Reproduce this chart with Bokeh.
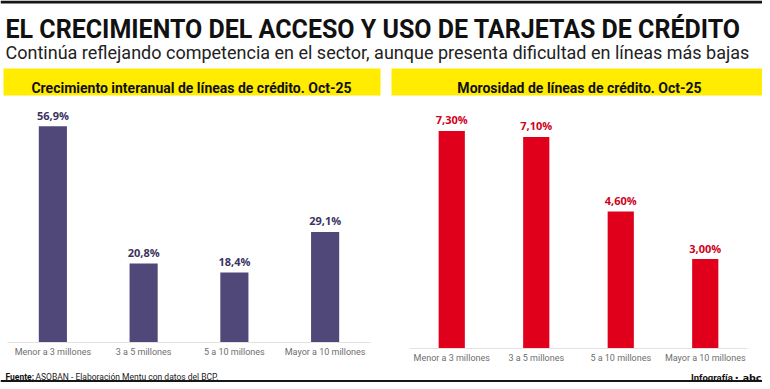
from bokeh.plotting import figure
from bokeh.layouts import column, row
from bokeh.models import ColumnDataSource, Range1d, FactorRange
from bokeh.core.properties import value
from bokeh.embed import file_html
from bokeh.resources import INLINE

# ---- data ----
title_text = "EL CRECIMIENTO DEL ACCESO Y USO DE TARJETAS DE CRÉDITO"
subtitle_text = "Continúa reflejando competencia en el sector, aunque presenta dificultad en líneas más bajas"
left_title = "Crecimiento interanual de líneas de crédito. Oct-25"
right_title = "Morosidad de líneas de crédito. Oct-25"
categories = ["Menor a 3 millones", "3 a 5 millones", "5 a 10 millones", "Mayor a 10 millones"]
growth = [56.9, 20.8, 18.4, 29.1]
delinquency = [7.30, 7.10, 4.60, 3.00]
source_label = "Fuente:"
source_text = "ASOBAN - Elaboración Mentu con datos del BCP."
credit_text = "Infografía •"
brand_text = "abc"

NARROW_B = "'Noto Sans ExtraCondensed', 'Noto Sans Condensed', Roboto, sans-serif"
NARROW_L = "'Noto Sans ExtraCondensed Light', 'Noto Sans ExtraCondensed', 'Noto Sans Condensed', Roboto, sans-serif"
W = 762
HDR_H = 100
CH_H = 264
FT_H = 17


def blank(fig):
    fig.axis.visible = False
    fig.grid.visible = False
    fig.outline_line_color = None
    return fig


# ---- header ----
hdr = figure(width=W, height=HDR_H, x_range=Range1d(0, W), y_range=Range1d(HDR_H, 0),
             output_backend="svg", toolbar_location=None, min_border=0)
blank(hdr)
hdr.quad(left=[0], right=[W], top=[0], bottom=[3], fill_color="#161616", line_color=None)
hdr.quad(left=[3, 391], right=[380, W], top=[68, 68], bottom=[95, 95],
         fill_color="#ffec00", line_color=None)
hdr.text(x=[5], y=[29], text=[title_text], text_font=value(NARROW_B), text_font_style="bold",
         text_font_size="25px", text_baseline="alphabetic", text_color="#111111")
hdr.text(x=[5], y=[52], text=[subtitle_text], text_font=value(NARROW_L), text_font_style="normal",
         text_font_size="18px", text_baseline="alphabetic", text_color="#222222")
hdr.text(x=[191, 579], y=[87, 87], text=[left_title, right_title], text_font=value(NARROW_B),
         text_font_style="bold", text_font_size="14px", text_align="center",
         text_baseline="alphabetic", text_color="#111111")


def bar_chart(vals, labels, frame_h, px_per_unit, color, label_color, mb_left, frame_w, mb_right):
    src = ColumnDataSource(dict(cat=categories, val=vals, lab=labels))
    f = figure(frame_width=frame_w, frame_height=frame_h, x_range=FactorRange(*categories),
               y_range=Range1d(0, frame_h / px_per_unit), output_backend="svg",
               toolbar_location=None, min_border_left=mb_left, min_border_right=mb_right,
               min_border_top=0, min_border_bottom=CH_H - frame_h)
    f.vbar(x="cat", top="val", width=0.31, source=src, fill_color=color, line_color=None)
    f.text(x="cat", y="val", text="lab", source=src, text_align="center",
           text_baseline="alphabetic", y_offset=-11, text_font=value("Open Sans"),
           text_font_style="bold", text_font_size="11px", text_color=label_color)
    f.yaxis.visible = False
    f.grid.visible = False
    f.outline_line_color = None
    ax = f.xaxis[0]
    ax.axis_line_color = "#e2e2e2"
    ax.axis_line_width = 1
    ax.major_tick_line_color = None
    ax.minor_tick_line_color = None
    ax.major_tick_out = 0
    ax.major_tick_in = 0
    ax.major_label_standoff = 4
    ax.major_label_text_font = "Roboto"
    ax.major_label_text_font_size = "9px"
    ax.major_label_text_color = "#6e6e6e"
    return f


left_labels = [f"{v:.1f}".replace(".", ",") + "%" for v in growth]
right_labels = [f"{v:.2f}".replace(".", ",") + "%" for v in delinquency]

lf = bar_chart(growth, left_labels, 242, 3.8, "#504878", "#3a345f", 7, 363, 11)
rf = bar_chart(delinquency, right_labels, 248, 29.8, "#e0001b", "#d0021b", 28, 338, 15)

# ---- footer ----
ftr = figure(width=W, height=FT_H, x_range=Range1d(0, W), y_range=Range1d(FT_H, 0),
             output_backend="svg", toolbar_location=None, min_border=0)
blank(ftr)
ftr.quad(left=[0], right=[W], top=[14.5], bottom=[FT_H], fill_color="#161616", line_color=None)
ftr.text(x=[5], y=[11.5], text=[source_label], text_font=value(NARROW_B), text_font_style="bold",
         text_font_size="8.5px", text_baseline="alphabetic", text_color="#111111")
ftr.text(x=[35], y=[11.5], text=[source_text], text_font=value(NARROW_L), text_font_style="normal",
         text_font_size="8.5px", text_baseline="alphabetic", text_color="#222222")
ftr.text(x=[738], y=[11.5], text=[credit_text], text_font=value(NARROW_B), text_font_style="bold",
         text_font_size="9.5px", text_align="right", text_baseline="alphabetic", text_color="#111111")
ftr.text(x=[761], y=[11.5], text=[brand_text], text_font=value("DejaVu Sans"), text_font_style="bold",
         text_font_size="9.5px", text_align="right", text_baseline="alphabetic", text_color="#111111")

layout = column(hdr, row(lf, rf, spacing=0), ftr, spacing=0)
open("out.html", "w").write(file_html(layout, INLINE))
